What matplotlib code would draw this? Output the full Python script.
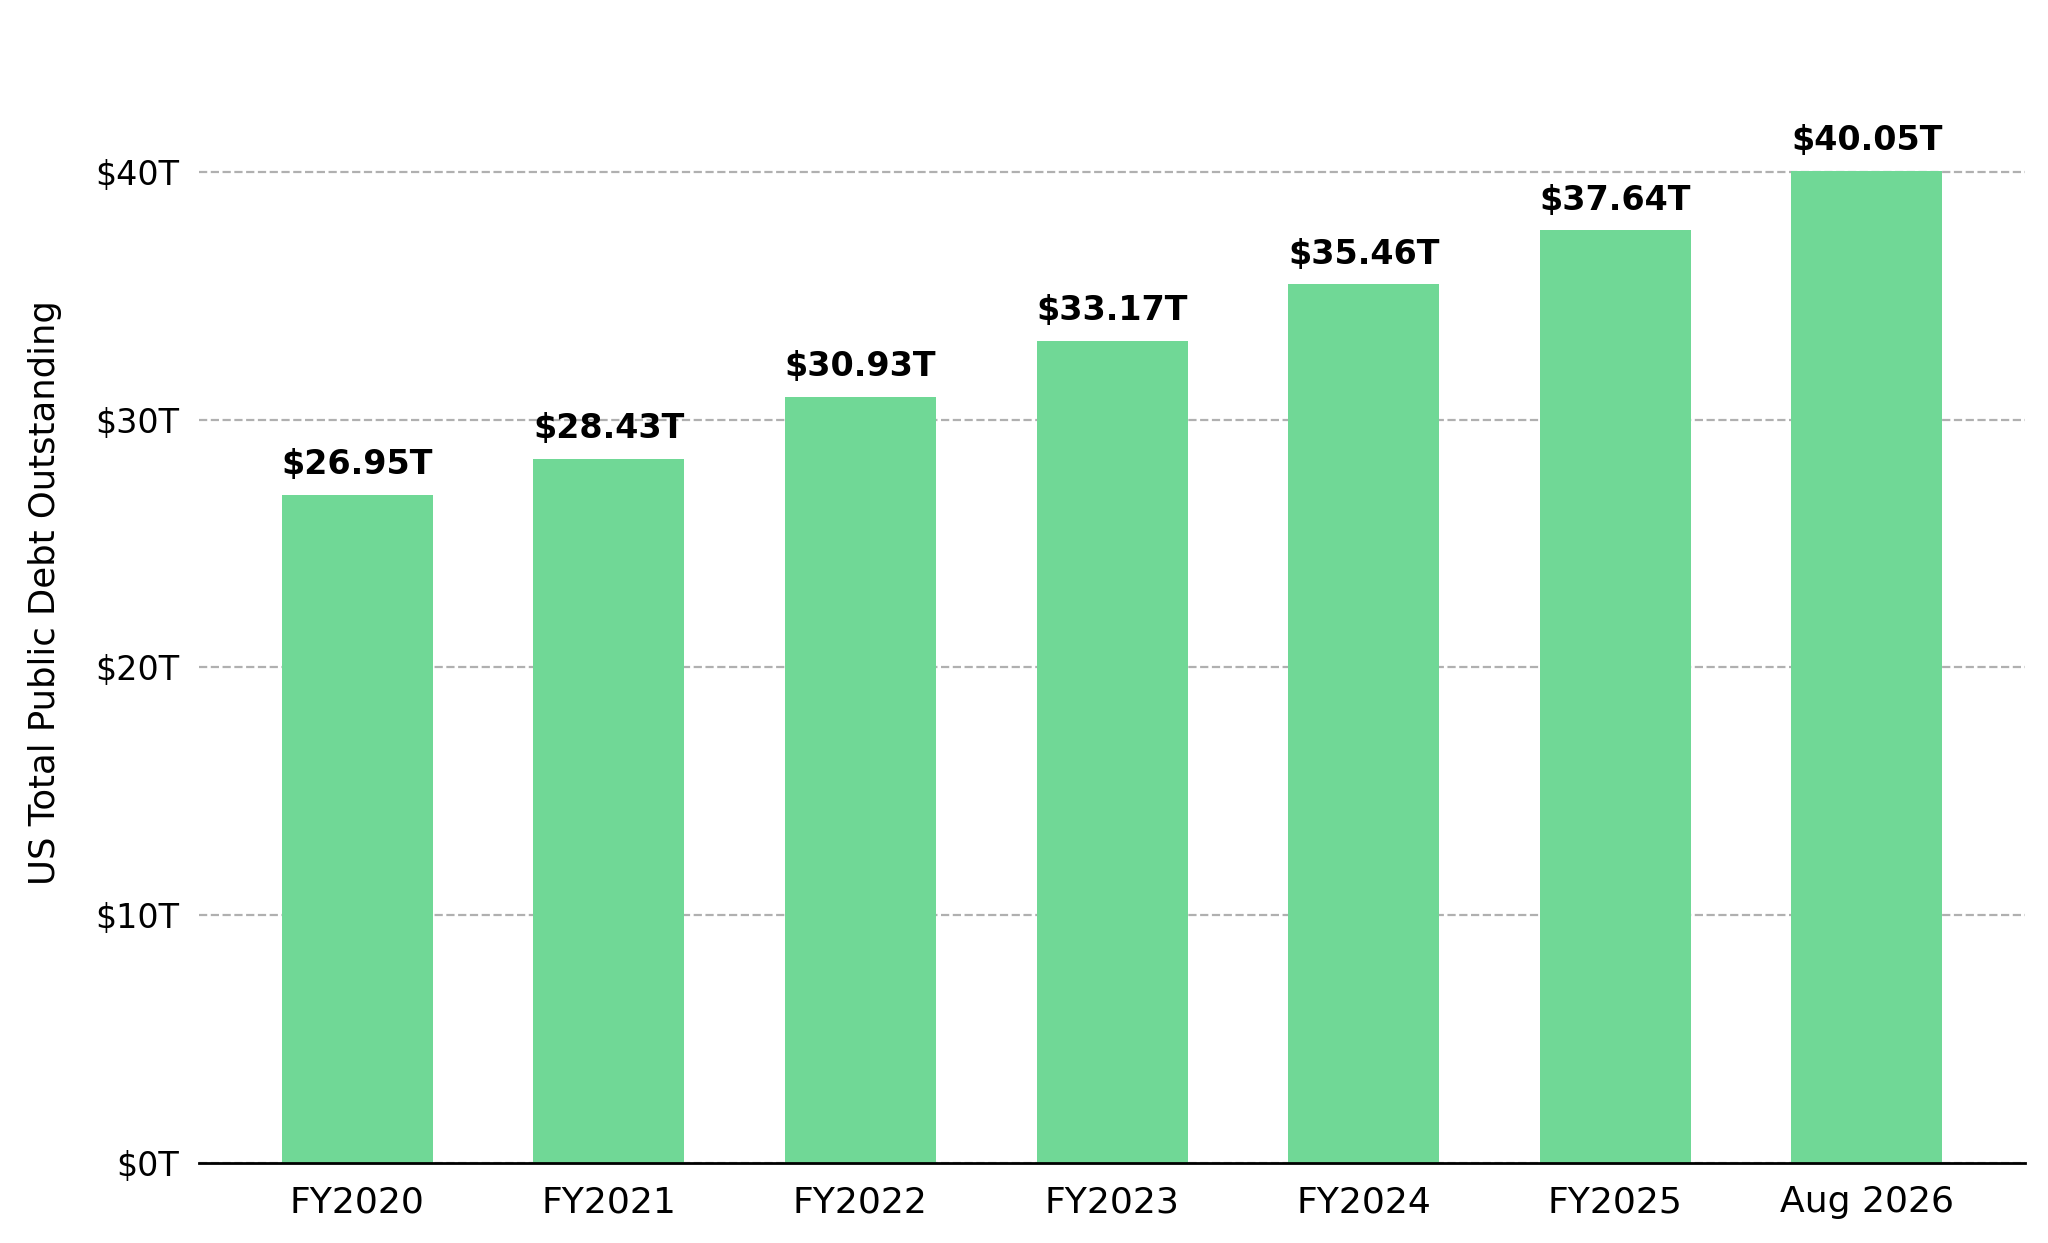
import matplotlib.pyplot as plt
from matplotlib.ticker import FuncFormatter

# US total public debt outstanding, trillions of dollars
periods = ['FY2020', 'FY2021', 'FY2022', 'FY2023', 'FY2024', 'FY2025', 'Aug 2026']
debt = [26.95, 28.43, 30.93, 33.17, 35.46, 37.64, 40.05]
bar_color = '#70d896'

fig = plt.figure(figsize=(10.24, 6.215), dpi=200)
ax = fig.add_axes([0.097, 0.0644, 0.892, 0.918])

x = list(range(len(periods)))
ax.bar(x, debt, width=0.6, color=bar_color, zorder=2)

for xi, v in zip(x, debt):
    ax.annotate(f'${v:.2f}T', (xi, v), xytext=(0, 5), textcoords='offset points',
                ha='center', va='bottom', fontsize=12, fontweight='bold')

# headroom above the tallest bar
ax.set_ylim(0, max(debt) * 1.15)
ax.set_yticks([0, 10, 20, 30, 40])
ax.yaxis.set_major_formatter(FuncFormatter(lambda v, p: f'${v:.0f}T'))
ax.set_xticks(x)
ax.set_xticklabels(periods)
ax.tick_params(axis='y', length=0, pad=7, labelsize=12)
ax.tick_params(axis='x', length=0, pad=8, labelsize=13)
ax.set_ylabel('US Total Public Debt Outstanding', fontsize=12.75, labelpad=12)

ax.grid(axis='y', linestyle='--', color='#b0b0b0', linewidth=0.8, zorder=0)
ax.set_axisbelow(True)
for s in ['top', 'right', 'left']:
    ax.spines[s].set_visible(False)
ax.spines['bottom'].set_color('black')
ax.spines['bottom'].set_linewidth(1.0)

fig.savefig('out.png', dpi=200)
